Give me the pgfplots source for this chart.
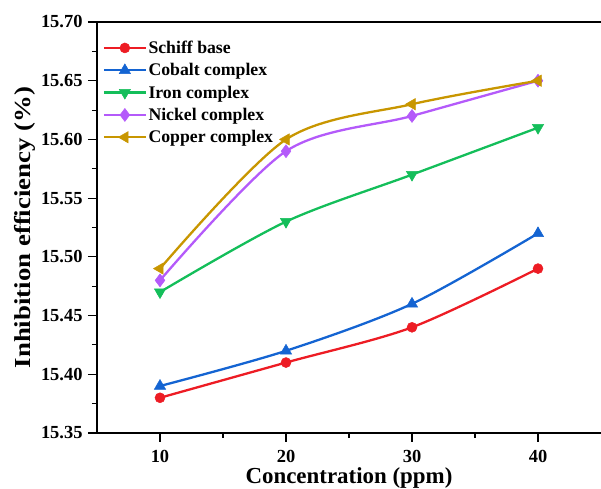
\documentclass[border=0pt]{standalone}
\usepackage{pgfplots}
\pgfplotsset{compat=1.18}
\usepackage{fontspec}
\setmainfont{Liberation Serif}
\definecolor{cRed}{RGB}{237,28,36}
\definecolor{cBlue}{RGB}{20,100,210}
\definecolor{cGreen}{RGB}{20,190,90}
\definecolor{cPurple}{RGB}{180,90,250}
\definecolor{cGold}{RGB}{200,150,0}
\begin{document}
\begin{tikzpicture}
\useasboundingbox (-97bp,-56bp) rectangle (504bp,433bp);
\begin{axis}[
  at={(0,0)}, anchor=south west,
  scale only axis, width=504bp, height=411bp,
  xmin=5, xmax=45, ymin=15.35, ymax=15.70,
  axis lines*=left,
  axis line style={line width=1.2bp, black},
  xtick={10,20,30,40}, minor xtick={15,25,35},
  ytick={15.35,15.40,...,15.71}, minor y tick num=1,
  tick align=outside,
  major tick length=9bp, minor tick length=5bp,
  every tick/.style={line width=1.1bp, black},
  /pgf/number format/assume math mode=true,
  yticklabel style={xshift=-2bp, /pgf/number format/fixed, /pgf/number format/fixed zerofill, /pgf/number format/precision=2},
  xticklabel style={inner sep=0pt, yshift=-8bp},
  ticklabel style={font=\bfseries\fontsize{18.5}{20}\selectfont},
  xlabel={Concentration (ppm)},
  ylabel={Inhibition efficiency (\%)},
  label style={font=\bfseries\fontsize{23}{26}\selectfont},
  xlabel style={at={([yshift=-50bp]axis description cs:0.5,0)}, anchor=base, inner sep=0pt},
  ylabel style={at={([xshift=-72bp]axis description cs:0,0.50)}, anchor=center, xscale=1.17},
  legend cell align=left,
  legend style={draw=none, fill=none, at={([yshift=-5bp]axis description cs:0.005,0.975)}, anchor=north west,
    font=\bfseries\fontsize{17.8}{19}\selectfont, row sep=5.5bp,
    nodes={inner sep=1.5bp}},
  legend image code/.code={\draw[mark repeat=2,mark phase=2] plot coordinates {(0bp,0bp) (21bp,0bp) (42bp,0bp)};},
  every axis plot/.append style={line width=2.3bp, smooth, tension=0.5},
]
\addplot[cRed, mark=*, mark size=5bp, mark options={solid, fill=cRed, line width=0.5bp}] coordinates {(10,15.38) (20,15.41) (30,15.44) (40,15.49)};
\addlegendentry{Schiff base}
\addplot[cBlue, mark=triangle*, mark size=6.5bp, mark options={solid, fill=cBlue, line width=0.5bp}] coordinates {(10,15.39) (20,15.42) (30,15.46) (40,15.52)};
\addlegendentry{Cobalt complex}
\addplot[cGreen, mark=triangle*, mark size=6.5bp, mark options={solid, fill=cGreen, rotate=180, line width=0.5bp}] coordinates {(10,15.47) (20,15.53) (30,15.57) (40,15.61)};
\addlegendentry{Iron complex}
\addplot[cPurple, mark=diamond*, mark size=6.5bp, mark options={solid, fill=cPurple, line width=0.5bp}] coordinates {(10,15.48) (20,15.59) (30,15.62) (40,15.65)};
\addlegendentry{Nickel complex}
\addplot[cGold, mark=triangle*, mark size=6.5bp, mark options={solid, fill=cGold, rotate=90, line width=0.5bp}] coordinates {(10,15.49) (20,15.60) (30,15.63) (40,15.65)};
\addlegendentry{Copper complex}
\draw[line width=1.2bp, black] (rel axis cs:0,1) -- (rel axis cs:1,1);
\end{axis}
\end{tikzpicture}
\end{document}
